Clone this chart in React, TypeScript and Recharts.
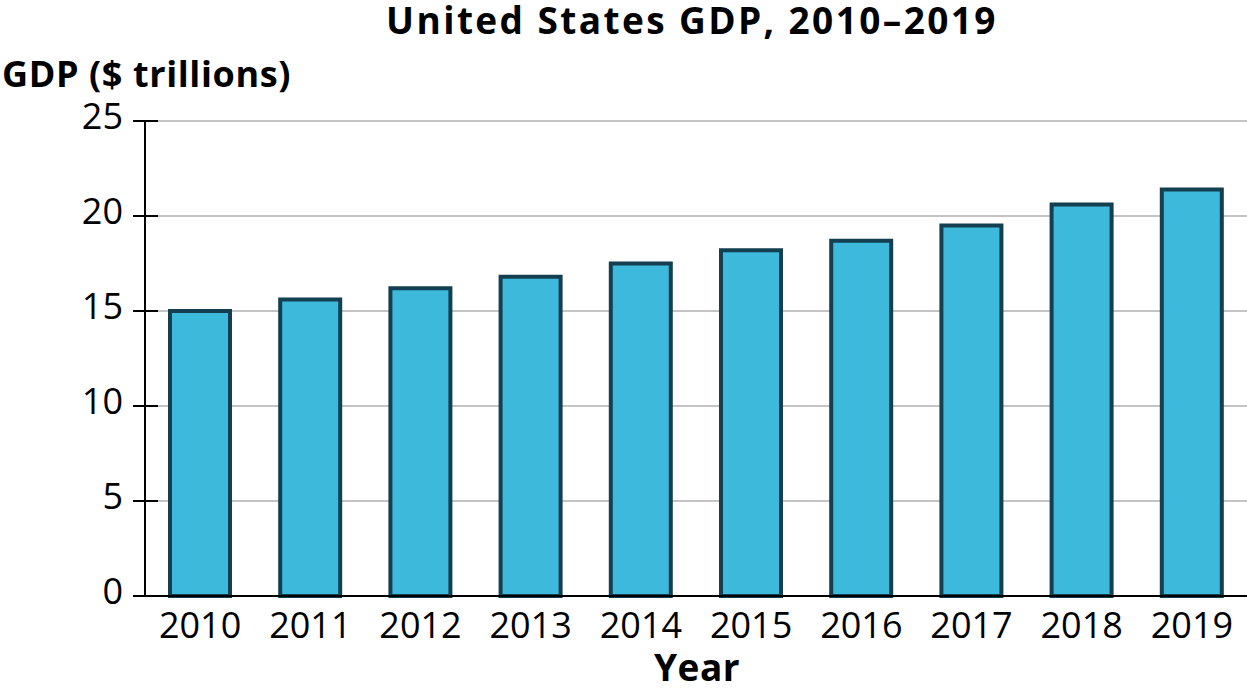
import React from 'react';
import { BarChart, Bar, XAxis, YAxis, CartesianGrid, Label } from 'recharts';

const years = ['2010', '2011', '2012', '2013', '2014', '2015', '2016', '2017', '2018', '2019'];
const gdp = [15.0, 15.6, 16.2, 16.8, 17.5, 18.2, 18.7, 19.5, 20.6, 21.4];
const yTicks = [0, 5, 10, 15, 20, 25];

const data = years.map((y, i) => ({ year: y, gdp: gdp[i] }));

const FONT = '"Open Sans", sans-serif';

const YTick = (props: any) => {
  const { x, y, payload } = props;
  return (
    <g>
      <line x1={x - 12} x2={x + 13} y1={y} y2={y} stroke="#000" strokeWidth={2} />
      <text x={x - 22} y={y + 8} textAnchor="end" fontSize={36} fontFamily={FONT} fill="#000">
        {payload.value}
      </text>
    </g>
  );
};

const XTick = (props: any) => {
  const { x, y, payload } = props;
  return (
    <text x={x} y={y + 42} textAnchor="middle" fontSize={36} fontFamily={FONT} fill="#000">
      {payload.value}
    </text>
  );
};

export default function App() {
  return (
    <div style={{ position: 'absolute', left: 0, top: 0, width: 1247, height: 699, background: '#fff' }}>
      <BarChart
        width={1247}
        height={699}
        data={data}
        margin={{ top: 121, right: 0, bottom: 0, left: 0 }}
      >
        <CartesianGrid vertical={false} stroke="#c4c4c4" strokeWidth={2} />
        <XAxis
          dataKey="year"
          tickLine={false}
          tickSize={0}
          tickMargin={0}
          axisLine={{ stroke: '#000', strokeWidth: 2 }}
          tick={<XTick />}
          interval={0}
          height={103}
        >
          <Label
            content={() => (
              <text x={697} y={681} textAnchor="middle" fontSize={37} fontWeight="bold" letterSpacing={0.5} fontFamily={FONT} fill="#000">
                Year
              </text>
            )}
          />
        </XAxis>
        <YAxis
          width={145}
          domain={[0, 25]}
          ticks={yTicks}
          tickLine={false}
          tickSize={0}
          tickMargin={0}
          axisLine={{ stroke: '#000', strokeWidth: 2 }}
          tick={<YTick />}
          interval={0}
        >
          <Label
            content={() => (
              <g>
                <text x={2} y={87} textAnchor="start" fontSize={36} fontWeight="bold" letterSpacing={0.6} fontFamily={FONT} fill="#000">
                  GDP ($ trillions)
                </text>
                <text x={692} y={34} textAnchor="middle" fontSize={37} fontWeight="bold" letterSpacing={2.4} fontFamily={FONT} fill="#000">
                  United States GDP, 2010–2019
                </text>
              </g>
            )}
          />
        </YAxis>
        <Bar dataKey="gdp" fill="#3cb9db" stroke="#133f50" strokeWidth={4} barSize={60} isAnimationActive={false} />
      </BarChart>
    </div>
  );
}
